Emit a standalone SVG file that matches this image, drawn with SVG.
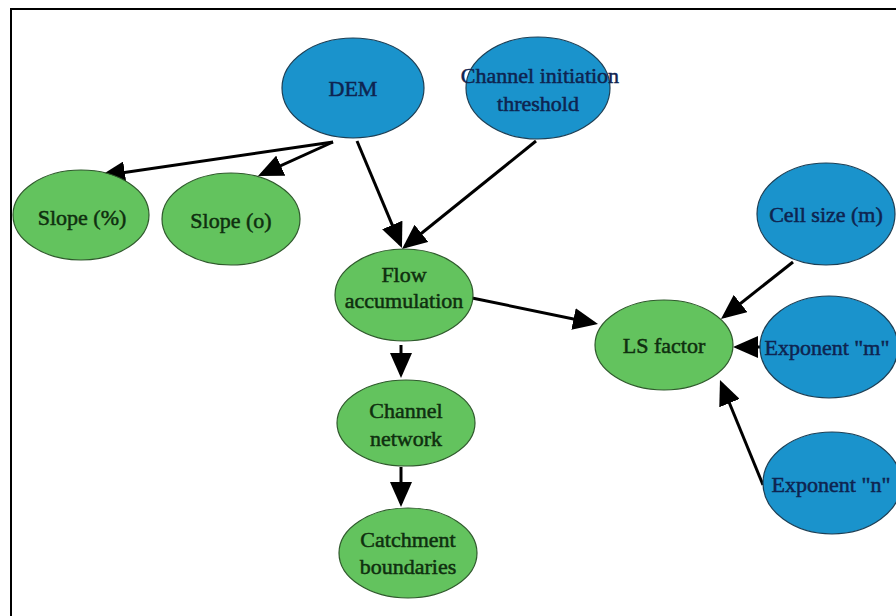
<svg xmlns="http://www.w3.org/2000/svg" width="896" height="616" viewBox="0 0 896 616">
<defs>
<marker id="arr" viewBox="0 0 25 22" refX="21" refY="11" markerWidth="25" markerHeight="22" markerUnits="userSpaceOnUse" orient="auto">
<path d="M0,0 L25,11 L0,22 z" fill="#000"/>
</marker>
<style>
.g ellipse{fill:#63c35e;stroke:#2f5a2c;stroke-width:1.2}
.b ellipse{fill:#1a93cc;stroke:#1d3f55;stroke-width:1.2}
text{font-family:"Liberation Serif","Times New Roman",serif;font-size:22px;text-anchor:middle;stroke-width:0.5}
.g text{fill:#0f2f0f;stroke:#0f2f0f}
.b text{fill:#0e2450;stroke:#0e2450}
#edges line{stroke:#000;stroke-width:3;marker-end:url(#arr)}
</style>
</defs>
<rect x="0" y="0" width="896" height="616" fill="#fff"/>
<rect x="11" y="9" width="900" height="620" fill="none" stroke="#000" stroke-width="2"/>
<g id="edges">
<line x1="333" y1="142" x2="104" y2="175.4"/>
<line x1="333" y1="142" x2="261.6" y2="174.3"/>
<line x1="357" y1="141" x2="400.4" y2="244.3"/>
<line x1="536" y1="141" x2="405.1" y2="246.5"/>
<line x1="472" y1="298" x2="594.1" y2="323.2"/>
<line x1="401" y1="345" x2="401" y2="374"/>
<line x1="401" y1="467" x2="401" y2="503"/>
<line x1="793" y1="262" x2="724.1" y2="316.5"/>
<line x1="762" y1="347" x2="737" y2="347"/>
<line x1="763" y1="485" x2="721.5" y2="383.7"/>
</g>
<g id="dem" class="b"><ellipse cx="353" cy="88" rx="71" ry="50"/><text x="353" y="96">DEM</text></g>
<g id="threshold" class="b"><ellipse cx="538" cy="88" rx="72" ry="51"/><text x="540" y="83">Channel initiation</text><text x="538" y="111">threshold</text></g>
<g id="slope-pct" class="g"><ellipse cx="81" cy="215" rx="68" ry="45"/><text x="82" y="225">Slope (%)</text></g>
<g id="slope-deg" class="g"><ellipse cx="231" cy="219" rx="69" ry="46"/><text x="231" y="228">Slope (o)</text></g>
<g id="flow" class="g"><ellipse cx="404" cy="295" rx="69" ry="46"/><text x="404" y="282">Flow</text><text x="404" y="308">accumulation</text></g>
<g id="channel" class="g"><ellipse cx="406" cy="423" rx="69" ry="43"/><text x="406" y="418">Channel</text><text x="406" y="446">network</text></g>
<g id="catchment" class="g"><ellipse cx="408" cy="553" rx="69" ry="45"/><text x="408" y="547">Catchment</text><text x="408" y="574">boundaries</text></g>
<g id="ls" class="g"><ellipse cx="664" cy="345" rx="69" ry="45"/><text x="664" y="353">LS factor</text></g>
<g id="cellsize" class="b"><ellipse cx="826" cy="214" rx="69" ry="51"/><text x="826" y="222">Cell size (m)</text></g>
<g id="exp-m" class="b"><ellipse cx="829" cy="347" rx="69" ry="51"/><text x="827" y="355">Exponent "m"</text></g>
<g id="exp-n" class="b"><ellipse cx="832" cy="483" rx="69" ry="51"/><text x="831" y="492">Exponent "n"</text></g>
</svg>
